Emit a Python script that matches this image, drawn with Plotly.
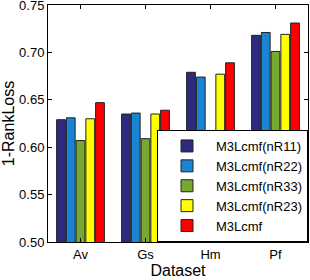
import plotly.graph_objects as go

categories = ["Av", "Gs", "Hm", "Pf"]
series_names = ["M3Lcmf(nR11)", "M3Lcmf(nR22)", "M3Lcmf(nR33)", "M3Lcmf(nR23)", "M3Lcmf"]
nR11 = [0.629, 0.635, 0.679, 0.718]
nR22 = [0.631, 0.636, 0.674, 0.721]
nR33 = [0.607, 0.609, 0.608, 0.701]
nR23 = [0.630, 0.635, 0.677, 0.719]
full = [0.647, 0.639, 0.689, 0.731]
colors = ["#2E2A82", "#1A84D4", "#77A830", "#FFFF00", "#FF0000"]
y_ticks = [0.50, 0.55, 0.60, 0.65, 0.70, 0.75]

fig = go.Figure()
for name, vals, c in zip(series_names, [nR11, nR22, nR33, nR23, full], colors):
    fig.add_trace(go.Bar(x=categories, y=vals, name=name, marker=dict(color=c, line=dict(color="#222222", width=1))))

font = dict(family="Liberation Sans, Arial, sans-serif", size=13, color="black")
fig.update_layout(
    width=310, height=280,
    margin=dict(l=48, r=2, t=5, b=38, autoexpand=False),
    paper_bgcolor="white", plot_bgcolor="white",
    font=font,
    barmode="group", bargap=0.25, bargroupgap=0.1,
    showlegend=True,
    legend=dict(x=1, y=0, xanchor="right", yanchor="bottom", bgcolor="white",
                bordercolor="black", borderwidth=1, font=dict(size=13),
                tracegroupgap=0, itemwidth=48),
    xaxis=dict(title=dict(text="Dataset", standoff=0), showline=True, linecolor="black", linewidth=1,
               mirror="ticks", ticks="inside", ticklen=4, tickcolor="black", showgrid=False,
               automargin=False),
    yaxis=dict(title=dict(text="1-RankLoss", standoff=2), range=[0.5, 0.75], tickvals=y_ticks,
               tickformat=".2f", showline=True, linecolor="black", linewidth=1,
               mirror="ticks", ticks="inside", ticklen=4, tickcolor="black", showgrid=False,
               zeroline=False, ticklabeloverflow="allow", automargin=False),
)
fig.write_html("out.html", config={"displayModeBar": False},
               post_script="document.body.style.margin='0';document.body.style.overflow='hidden';")
